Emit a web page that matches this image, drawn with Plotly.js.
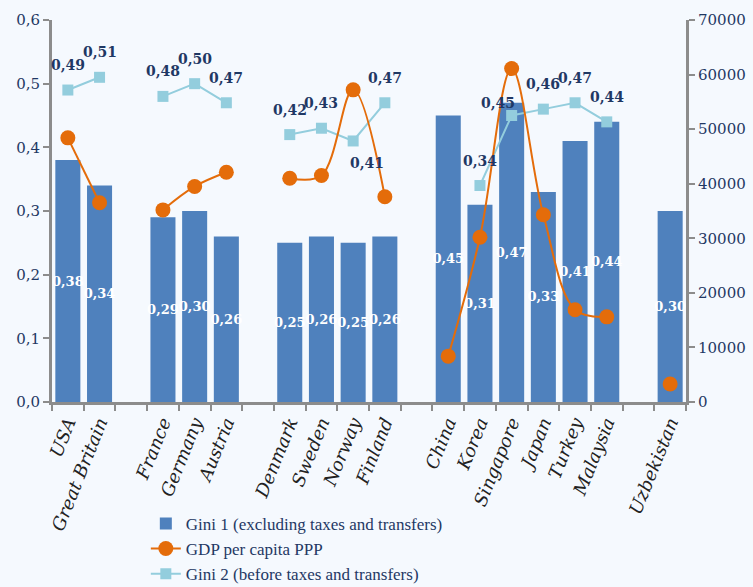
<!DOCTYPE html>
<html>
<head>
<meta charset="utf-8">
<script src="https://cdn.plot.ly/plotly-3.0.1.min.js"></script>
<style>
  html, body { margin: 0; padding: 0; background: #F5F9FE; }
  #chart { width: 753px; height: 587px; }
</style>
</head>
<body>
<div id="chart"></div>
<script>
// Countries in display order; empty strings are spacer slots between regional groups
const categories = ["USA", "Great Britain", "", "France", "Germany", "Austria", "",
  "Denmark", "Sweden", "Norway", "Finland", "",
  "China", "Korea", "Singapore", "Japan", "Turkey", "Malaysia", "", "Uzbekistan"];

// Gini 1 (excluding taxes and transfers)
const gini1 = [0.38, 0.34, null, 0.29, 0.30, 0.26, null,
  0.25, 0.26, 0.25, 0.26, null,
  0.45, 0.31, 0.47, 0.33, 0.41, 0.44, null, 0.30];

// Gini 2 (before taxes and transfers)
const gini2 = [0.49, 0.51, null, 0.48, 0.50, 0.47, null,
  0.42, 0.43, 0.41, 0.47, null,
  null, 0.34, 0.45, 0.46, 0.47, 0.44, null, null];

// GDP per capita PPP
const gdp = [48400, 36500, null, 35200, 39500, 42100, null,
  41000, 41500, 57200, 37600, null,
  8400, 30200, 61100, 34300, 16900, 15600, null, 3300];

const seriesNames = ["Gini 1 (excluding taxes and transfers)", "GDP per capita PPP", "Gini 2 (before taxes and transfers)"];

// Spacer slots need unique keys on a category axis
let spacer = 0;
const xKeys = categories.map(c => c === "" ? " ".repeat(++spacer) : c);

const navy = "#1F3864";
const serif = "DejaVu Serif, Liberation Serif, serif";

// Label nudges (px) where the default "above the point" placement would collide
const labelNudge = { "Norway": [14, -47], "Singapore": [-14, -12] };

const annotations = [];
xKeys.forEach((k, i) => {
  if (gini2[i] === null) return;
  const n = labelNudge[k] || [0, 0];
  annotations.push({
    x: k, y: gini2[i], xref: "x", yref: "y",
    text: gini2[i].toFixed(2).replace(".", ","),
    showarrow: false,
    xshift: n[0], yshift: 25 + n[1],
    font: { family: serif, size: 14, color: navy, weight: "bold" }
  });
});

const traces = [
  {
    type: "bar", name: seriesNames[0],
    x: xKeys, y: gini1,
    marker: { color: "#4F81BD" },
    texttemplate: "%{y:.2f}",
    textposition: "inside",
    insidetextanchor: "middle",
    textangle: 0,
    constraintext: "none",
    textfont: { family: serif, size: 13, color: "#FFFFFF", weight: "bold" },
    hoverinfo: "x+y",
    legendrank: 1
  },
  {
    type: "scatter", mode: "lines+markers", name: seriesNames[1],
    x: xKeys, y: gdp, yaxis: "y2",
    line: { color: "#E46C0A", width: 2, shape: "spline", smoothing: 1 },
    marker: { color: "#E46C0A", size: 15, symbol: "circle" },
    connectgaps: false,
    legendrank: 2
  },
  {
    type: "scatter", mode: "lines+markers", name: seriesNames[2],
    x: xKeys, y: gini2,
    line: { color: "#93CDDD", width: 2 },
    marker: { color: "#93CDDD", size: 11, symbol: "square" },
    connectgaps: false,
    legendrank: 3
  }
];

const layout = {
  width: 753, height: 587,
  paper_bgcolor: "#F5F9FE", plot_bgcolor: "#F5F9FE",
  separators: ", ",
  margin: { l: 52, r: 67, t: 20, b: 185, autoexpand: false },
  bargap: 0.21,
  showlegend: true,
  legend: {
    orientation: "v",
    x: 0.148, xanchor: "left",
    y: -0.272, yanchor: "top",
    bgcolor: "rgba(0,0,0,0)",
    font: { family: "Liberation Serif, serif", size: 17, color: navy },
    traceorder: "normal"
  },
  xaxis: {
    type: "category",
    categoryorder: "array", categoryarray: xKeys,
    range: [-0.5, xKeys.length - 0.5],
    tickson: "boundaries",
    automargin: false,
    ticks: "outside", ticklen: 6, tickwidth: 2, tickcolor: "#8C8C8C",
    showline: true, linecolor: "#8C8C8C", linewidth: 3,
    showgrid: false, zeroline: false,
    tickangle: -68,
    tickfont: { family: serif, size: 18, color: "#222222", style: "italic" }
  },
  yaxis: {
    range: [0, 0.6], dtick: 0.1, tickformat: ".1f",
    automargin: false,
    ticks: "outside", ticklen: 6, tickwidth: 2, tickcolor: "#8C8C8C",
    showline: true, linecolor: "#8C8C8C", linewidth: 3,
    showgrid: false, zeroline: false,
    tickfont: { family: serif, size: 15, color: navy }
  },
  yaxis2: {
    overlaying: "y", side: "right",
    range: [0, 70000], dtick: 10000, tickformat: "d",
    automargin: false,
    ticks: "outside", ticklen: 6, tickwidth: 2, tickcolor: "#8C8C8C",
    showline: true, linecolor: "#8C8C8C", linewidth: 3,
    showgrid: false, zeroline: false,
    tickfont: { family: serif, size: 15, color: navy }
  },
  annotations: annotations
};

Plotly.newPlot("chart", traces, layout, { displayModeBar: false, staticPlot: true });
</script>
</body>
</html>
